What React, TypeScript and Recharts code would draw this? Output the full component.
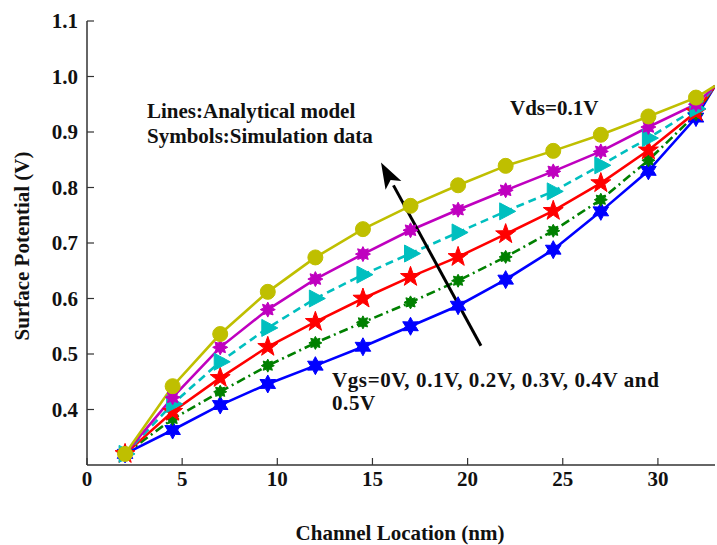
import React from 'react';
import { LineChart, Line, XAxis, YAxis, ReferenceLine, Customized } from 'recharts';

// channel position (nm); the last point closes the curves at the drain edge
const channelNm = [2, 4.5, 7, 9.5, 12, 14.5, 17, 19.5, 22, 24.5, 27, 29.5, 32, 33];

const vgs00 = [0.32, 0.363, 0.408, 0.446, 0.479, 0.513, 0.55, 0.587, 0.634, 0.688, 0.757, 0.83, 0.926, 0.983];
const vgs01 = [0.32, 0.383, 0.432, 0.479, 0.52, 0.557, 0.593, 0.632, 0.675, 0.722, 0.778, 0.849, 0.932, 0.983];
const vgs02 = [0.32, 0.396, 0.457, 0.513, 0.558, 0.6, 0.639, 0.675, 0.716, 0.758, 0.808, 0.867, 0.936, 0.983];
const vgs03 = [0.32, 0.41, 0.486, 0.547, 0.6, 0.643, 0.681, 0.719, 0.757, 0.793, 0.84, 0.889, 0.942, 0.983];
const vgs04 = [0.32, 0.422, 0.512, 0.58, 0.635, 0.68, 0.723, 0.76, 0.795, 0.829, 0.865, 0.909, 0.95, 0.983];
const vgs05 = [0.32, 0.442, 0.536, 0.612, 0.674, 0.725, 0.767, 0.804, 0.839, 0.866, 0.895, 0.928, 0.962, 0.983];

const xTicks = [0, 5, 10, 15, 20, 25, 30];
const yTicks = [0.4, 0.5, 0.6, 0.7, 0.8, 0.9, 1.0, 1.1];

const data = channelNm.map((x, i) => ({
  x,
  v0: vgs00[i],
  v1: vgs01[i],
  v2: vgs02[i],
  v3: vgs03[i],
  v4: vgs04[i],
  v5: vgs05[i],
}));

const FONT = '"Liberation Serif", "Times New Roman", serif';
const lastIdx = channelNm.length - 1;

const starPoints = (cx: number, cy: number, n: number, ro: number, ri: number) => {
  const pts: string[] = [];
  for (let k = 0; k < n * 2; k++) {
    const r = k % 2 === 0 ? ro : ri;
    const a = -Math.PI / 2 + (k * Math.PI) / n;
    pts.push(`${cx + r * Math.cos(a)},${cy + r * Math.sin(a)}`);
  }
  return pts.join(' ');
};

const makeDot = (kind: string, color: string) => (props: any) => {
  const { cx, cy, index } = props;
  const key = `${kind}-${index}`;
  if (index === lastIdx || cx == null || cy == null) return <g key={key} />;
  switch (kind) {
    case 'circle':
      return <circle key={key} cx={cx} cy={cy} r={7.5} fill={color} stroke={color} />;
    case 'tri':
      return (
        <polygon key={key} points={`${cx - 6},${cy - 8.5} ${cx - 6},${cy + 8.5} ${cx + 10},${cy}`} fill={color} stroke={color} />
      );
    case 'penta':
      return <polygon key={key} points={starPoints(cx, cy, 5, 10.5, 4.2)} fill={color} stroke={color} />;
    case 'hexa':
      return <polygon key={key} points={starPoints(cx, cy, 6, 9, 5)} fill={color} stroke={color} />;
    case 'burstBig':
      return <polygon key={key} points={starPoints(cx, cy, 8, 7.5, 4.5)} fill={color} stroke={color} />;
    default:
      return <polygon key={key} points={starPoints(cx, cy, 8, 6.5, 4)} fill={color} stroke={color} />;
  }
};

const Arrow = (props: any) => {
  const { x1, y1, x2, y2 } = props;
  const ang = Math.atan2(y2 - y1, x2 - x1);
  const len = 26;
  const w = 9;
  const bx = x2 - len * Math.cos(ang);
  const by = y2 - len * Math.sin(ang);
  const px = -Math.sin(ang) * w;
  const py = Math.cos(ang) * w;
  return (
    <g>
      <line x1={x1} y1={y1} x2={bx} y2={by} stroke="#000" strokeWidth={3} />
      <polygon points={`${x2},${y2} ${bx + px},${by + py} ${bx + 6 * Math.cos(ang)},${by + 6 * Math.sin(ang)} ${bx - px},${by - py}`} fill="#000" />
    </g>
  );
};

const txt = { fontFamily: FONT, fontWeight: 700, fontSize: 21, fill: '#111' } as const;

const Annotations = () => (
  <g>
    <text x={147} y={118} {...txt}>Lines:Analytical model</text>
    <text x={147} y={143} {...txt}>Symbols:Simulation data</text>
    <text x={510} y={115} {...txt}>Vds=0.1V</text>
    <text x={332} y={387} letterSpacing={0.6} {...txt}>Vgs=0V, 0.1V, 0.2V, 0.3V, 0.4V and</text>
    <text x={332} y={410} letterSpacing={0.6} {...txt}>0.5V</text>
    <text x={400} y={540} textAnchor="middle" {...txt}>Channel Location (nm)</text>
    <text x={0} y={0} textAnchor="middle" transform="translate(29,246) rotate(-90)" {...txt}>Surface Potential (V)</text>
  </g>
);

const tickStyle = { fontFamily: FONT, fontWeight: 700, fontSize: 21, fill: '#111' };
const axisLine = { stroke: '#333', strokeWidth: 1.5 };

const series = [
  { key: 'v0', color: '#0000FF', kind: 'hexa', dash: undefined },
  { key: 'v1', color: '#008000', kind: 'burst', dash: '9 4 2 4' },
  { key: 'v2', color: '#FF0000', kind: 'penta', dash: undefined },
  { key: 'v3', color: '#00BFBF', kind: 'tri', dash: '8 5' },
  { key: 'v4', color: '#BF00BF', kind: 'burstBig', dash: undefined },
  { key: 'v5', color: '#BFBF00', kind: 'circle', dash: undefined },
];

export default function App() {
  return (
    <div style={{ position: 'absolute', left: 0, top: 0, width: 717, height: 545, background: '#fff' }}>
      <LineChart width={717} height={545} data={data} margin={{ top: 21, right: 2, bottom: 0, left: 0 }}>
        <XAxis
          dataKey="x"
          type="number"
          domain={[0, 33]}
          ticks={xTicks}
          allowDataOverflow
          height={80}
          tickSize={-7}
          tickMargin={13}
          axisLine={axisLine}
          tickLine={{ stroke: '#333', strokeWidth: 1.2 }}
          tick={tickStyle}
        />
        <XAxis
          xAxisId="top"
          orientation="top"
          dataKey="x"
          type="number"
          domain={[0, 33]}
          ticks={xTicks}
          height={0}
          tickSize={-7}
          axisLine={axisLine}
          tickLine={{ stroke: '#333', strokeWidth: 1.2 }}
          tick={false}
        />
        <YAxis
          type="number"
          domain={[0.3, 1.1]}
          ticks={yTicks}
          allowDataOverflow
          width={87}
          tickSize={-7}
          tickMargin={16}
          tickFormatter={(v: number) => v.toFixed(1)}
          axisLine={axisLine}
          tickLine={{ stroke: '#333', strokeWidth: 1.2 }}
          tick={tickStyle}
        />
        {series.map((s) => (
          <Line
            key={s.key}
            dataKey={s.key}
            type="linear"
            stroke={s.color}
            strokeWidth={2.6}
            strokeDasharray={s.dash}
            dot={makeDot(s.kind, s.color)}
            activeDot={false}
            isAnimationActive={false}
          />
        ))}
        <ReferenceLine
          segment={[{ x: 20.7, y: 0.515 }, { x: 15.45, y: 0.845 }]}
          shape={Arrow}
          ifOverflow="visible"
        />
        <Customized component={Annotations} />
      </LineChart>
    </div>
  );
}
